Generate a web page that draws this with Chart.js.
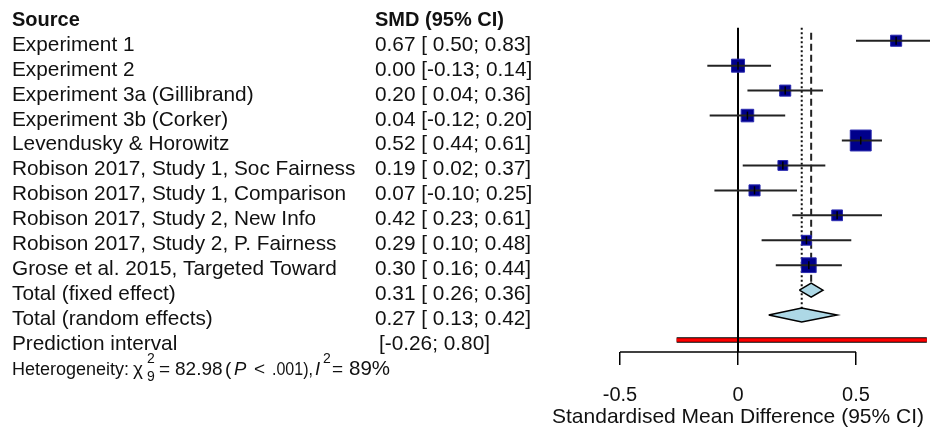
<!DOCTYPE html>
<html>
<head>
<meta charset="utf-8">
<script src="https://cdn.jsdelivr.net/npm/chart.js@4.4.1/dist/chart.umd.min.js"></script>
<style>
  html, body { margin: 0; padding: 0; background: #fff; }
  #forest { display: block; }
</style>
</head>
<body>
<canvas id="forest" width="930" height="432"></canvas>
<script>
// study rows
const studies = [
  'Experiment 1',
  'Experiment 2',
  'Experiment 3a (Gillibrand)',
  'Experiment 3b (Corker)',
  'Levendusky & Horowitz',
  'Robison 2017, Study 1, Soc Fairness',
  'Robison 2017, Study 1, Comparison',
  'Robison 2017, Study 2, New Info',
  'Robison 2017, Study 2, P. Fairness',
  'Grose et al. 2015, Targeted Toward'
];
const smd = [0.67, 0.00, 0.20, 0.04, 0.52, 0.19, 0.07, 0.42, 0.29, 0.30];
const lower = [0.50, -0.13, 0.04, -0.12, 0.44, 0.02, -0.10, 0.23, 0.10, 0.16];
const upper = [0.83, 0.14, 0.36, 0.20, 0.61, 0.37, 0.25, 0.61, 0.48, 0.44];
const weights = [7.5, 10.2, 7.5, 9.5, 25.3, 6.0, 7.5, 7.1, 6.0, 12.9]; // % (fixed)

// pooled estimates
const pooledLabels = ['Total (fixed effect)', 'Total (random effects)'];
const pooledSmd = [0.31, 0.27];
const pooledLower = [0.26, 0.13];
const pooledUpper = [0.36, 0.42];

// prediction interval
const predLabel = 'Prediction interval';
const predInterval = [-0.26, 0.80];

// heterogeneity
const hetDf = 9;
const hetQ = '82.98';
const hetP = '.001';
const hetI2 = '89%';

const xTicks = [-0.5, 0, 0.5];
const xTitle = 'Standardised Mean Difference (95% CI)';

const FONT = '"Liberation Sans", Arial, sans-serif';
const rowOf = i => i + 1;               // row 0 = header
const fixedRow = studies.length + 1;
const randomRow = studies.length + 2;
const predRow = studies.length + 3;
const hetRow = studies.length + 4;
const axisRow = 13.48;
const DIAMOND_H = 0.28;                 // half height in rows

const fmtLo = v => (v < 0 ? '' : ' ') + v.toFixed(2);
const ciText = (e, lo, hi) => `${e.toFixed(2)} [${fmtLo(lo)}; ${hi.toFixed(2)}]`;

// square side ~ sqrt(weight)
const squareRadius = w => 4.3 * Math.sqrt(w) / Math.SQRT2 - 0.5;

const datasets = [];

// little vertical tick on each estimate
datasets.push({
  type: 'scatter',
  data: smd.map((v, i) => ({ x: v, y: rowOf(i) })),
  pointStyle: 'line',
  rotation: 90,
  pointRadius: 4,
  borderColor: '#000',
  pointBorderWidth: 1.5,
  order: 0,
  clip: false
});

// CI whiskers
studies.forEach((s, i) => {
  datasets.push({
    type: 'line',
    data: [{ x: lower[i], y: rowOf(i) }, { x: upper[i], y: rowOf(i) }],
    borderColor: '#222',
    borderWidth: 2,
    pointRadius: 0,
    order: 1,
    clip: false
  });
});

// squares
datasets.push({
  type: 'scatter',
  data: smd.map((v, i) => ({ x: v, y: rowOf(i) })),
  pointStyle: 'rect',
  pointRadius: weights.map(squareRadius),
  backgroundColor: '#00008B',
  borderColor: '#2a2ab0',
  pointBorderWidth: 1,
  order: 2,
  clip: false
});

// diamonds
[fixedRow, randomRow].forEach((r, k) => {
  datasets.push({
    type: 'line',
    data: [
      { x: pooledLower[k], y: r },
      { x: pooledSmd[k], y: r - DIAMOND_H },
      { x: pooledUpper[k], y: r },
      { x: pooledSmd[k], y: r + DIAMOND_H },
      { x: pooledLower[k], y: r }
    ],
    borderColor: '#000',
    borderWidth: 1.5,
    backgroundColor: '#ADD8E6',
    fill: 'shape',
    pointRadius: 0,
    tension: 0,
    order: 1,
    clip: false
  });
});

// reference lines: null effect, fixed (dashed), random (dotted)
const lineTop = 0.48;
datasets.push({
  type: 'line',
  data: [{ x: 0, y: lineTop }, { x: 0, y: axisRow }],
  borderColor: '#000', borderWidth: 2, pointRadius: 0, order: 3, clip: false
});
datasets.push({
  type: 'line',
  data: [{ x: pooledSmd[0], y: lineTop + 0.2 }, { x: pooledSmd[0], y: fixedRow - DIAMOND_H }],
  borderColor: '#222', borderWidth: 2, borderDash: [7, 4], pointRadius: 0, order: 3, clip: false
});
datasets.push({
  type: 'line',
  data: [{ x: pooledSmd[1], y: lineTop }, { x: pooledSmd[1], y: randomRow - DIAMOND_H }],
  borderColor: '#111', borderWidth: 2, borderDash: [2, 2.5], pointRadius: 0, order: 3, clip: false
});

// x axis line, only across the tick range
datasets.push({
  type: 'line',
  data: [{ x: xTicks[0], y: axisRow }, { x: xTicks[xTicks.length - 1], y: axisRow }],
  borderColor: '#000', borderWidth: 1.5, pointRadius: 0, order: 3, clip: false
});

// prediction interval (black outline + red bar)
datasets.push({
  type: 'line',
  data: [{ x: predInterval[0], y: predRow }, { x: predInterval[1], y: predRow }],
  borderColor: '#000', borderWidth: 5.5, pointRadius: 0, order: 5, clip: false
});
datasets.push({
  type: 'line',
  data: [{ x: predInterval[0], y: predRow }, { x: predInterval[1], y: predRow }],
  borderColor: '#ff0000', borderWidth: 3.5, pointRadius: 0, order: 4, clip: false
});

// text columns drawn against the y scale
const textPlugin = {
  id: 'forestText',
  afterDraw(chart) {
    const { ctx, scales: { x, y } } = chart;
    const base = r => y.getPixelForValue(r) + 10;
    ctx.save();
    ctx.fillStyle = '#111';
    ctx.textAlign = 'left';
    ctx.textBaseline = 'alphabetic';

    ctx.font = 'bold 20px ' + FONT;
    ctx.fillText('Source', 12, base(0));
    ctx.fillText('SMD (95% CI)', 375, base(0));

    ctx.font = '20.8px ' + FONT;
    studies.forEach((s, i) => {
      ctx.fillText(s, 12, base(rowOf(i)));
      ctx.fillText(ciText(smd[i], lower[i], upper[i]), 375, base(rowOf(i)));
    });
    pooledLabels.forEach((s, k) => {
      const r = k === 0 ? fixedRow : randomRow;
      ctx.fillText(s, 12, base(r));
      ctx.fillText(ciText(pooledSmd[k], pooledLower[k], pooledUpper[k]), 375, base(r));
    });
    ctx.fillText(predLabel, 12, base(predRow));
    ctx.fillText(`[${fmtLo(predInterval[0]).trim()}; ${predInterval[1].toFixed(2)}]`, 379, base(predRow));

    // heterogeneity line
    const f = '18px ' + FONT, fn = '19px ' + FONT, fi = 'italic 18.5px ' + FONT, fs = '14px ' + FONT;
    const hy = base(hetRow);
    const put = (t, font, hx, dy = 0, maxW) => {
      ctx.font = font;
      if (maxW) ctx.fillText(t, hx, hy + dy, maxW);
      else ctx.fillText(t, hx, hy + dy);
    };
    put('Heterogeneity:', f, 12);
    put('\u03C7', fn, 133);
    put('2', fs, 147, -11.5);
    put(String(hetDf), fs, 147, 6.5);
    put('=', fn, 159);
    put(hetQ, fn, 175);
    put('(', fn, 225);
    put('P', fi, 234);
    put('<', fn, 254);
    put(hetP + '),', '17.5px ' + FONT, 272, 0, 41);
    put('I', fi, 315);
    put('2', fs, 323, -11.5);
    put('=', fn, 332);
    put(hetI2, '20.5px ' + FONT, 349);

    // x axis title
    ctx.font = '21px ' + FONT;
    ctx.textAlign = 'center';
    ctx.fillText(xTitle, x.getPixelForValue(0), 423);
    ctx.restore();
  }
};

new Chart(document.getElementById('forest'), {
  data: { datasets },
  options: {
    responsive: false,
    animation: false,
    layout: { padding: { left: 620, right: 0, top: 15, bottom: 0 } },
    scales: {
      x: {
        type: 'linear',
        min: -0.5,
        max: 0.7466,
        afterBuildTicks: s => { s.ticks = xTicks.map(v => ({ value: v })); },
        afterFit: s => { s.height = 80; },
        ticks: {
          font: { size: 20, family: FONT },
          color: '#111',
          padding: 18,
          maxRotation: 0,
          autoSkip: false,
          callback: v => String(v)
        },
        grid: {
          drawOnChartArea: false,
          tickLength: 13,
          color: '#000',
          lineWidth: 1.5
        },
        border: { display: false }
      },
      y: {
        type: 'linear',
        display: false,
        reverse: true,
        min: 0,
        max: axisRow
      }
    },
    plugins: {
      legend: { display: false },
      tooltip: { enabled: false }
    }
  },
  plugins: [textPlugin]
});
</script>
</body>
</html>
